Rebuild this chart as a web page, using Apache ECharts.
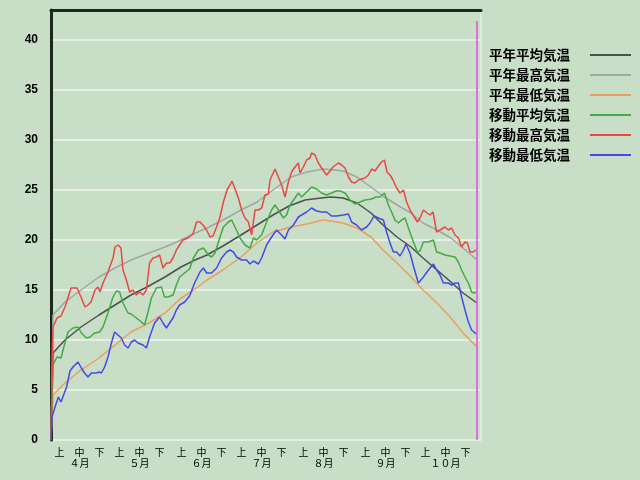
<!DOCTYPE html>
<html>
<head>
<meta charset="utf-8">
<script src="https://cdn.jsdelivr.net/npm/echarts@6/dist/echarts.min.js"></script>
<style>
  html, body { margin: 0; padding: 0; background: #c8dec7; }
  #chart { width: 640px; height: 480px; }
</style>
</head>
<body>
<div id="chart"></div>
<script>
// x = days counted from 4/1
const monthStarts = [0, 30, 61, 91, 122, 153, 183];
const monthLabels = ['４月', '５月', '６月', '７月', '８月', '９月', '１０月'];
const dekadLabels = ['上', '中', '下'];
const dekadOffsets = [4.3, 14.3, 24.3];
const lastDay = 213;

const seriesNames = ['平年平均気温', '平年最高気温', '平年最低気温', '移動平均気温', '移動最高気温', '移動最低気温'];

const normalAvg = [[0,0],[1,8.7],[7,10],[15,11.3],[24,12.5],[32,13.5],[40,14.5],[48,15.3],[57,16.3],[65,17.3],[72,18],[78,18.5],[86,19.4],[95,20.5],[103,21.5],[111,22.5],[119,23.4],[127,24],[135,24.2],[140,24.3],[146,24.2],[153,23.7],[160,22.7],[166,21.5],[173,20.3],[180,19.3],[186,18.2],[193,17],[200,15.8],[206,14.7],[213,13.7]];

const normalHigh = [[0,0],[1,12.5],[7,13.8],[15,15],[24,16.3],[32,17.2],[40,18],[49,18.7],[57,19.3],[65,20],[70,20.5],[78,21.2],[86,22],[95,23],[103,23.8],[111,25],[120,26.3],[128,26.8],[136,27.1],[142,27],[146,26.9],[153,26.3],[160,25.3],[166,24.4],[173,23.5],[180,22.7],[186,21.7],[193,21],[200,20.2],[206,19.2],[213,18]];

const normalLow = [[0,0],[1,4.5],[7,5.7],[15,7],[24,8.2],[32,9.5],[40,10.8],[49,11.7],[57,12.7],[65,14.2],[70,14.8],[78,16],[86,17],[95,18.3],[103,19.7],[111,20.8],[120,21.3],[128,21.6],[136,22],[140,21.9],[146,21.7],[153,21.2],[160,20.3],[166,19],[173,17.7],[180,16.3],[186,15],[193,13.7],[200,12.2],[206,10.7],[213,9.3]];

const movingAvg = [[0,0],[1,7.5],[3,8.3],[5,8.2],[6,9],[8.5,10.8],[11,11.2],[13.5,11.3],[15.2,10.7],[17.7,10.2],[19.5,10.3],[21.8,10.7],[24.3,10.8],[26,11.3],[28.5,12.7],[31,14.3],[32.7,14.9],[34.3,14.8],[36,13.7],[38.5,12.7],[40,12.6],[42.7,12.2],[45.2,11.8],[46.8,11.5],[48.5,12.8],[50.2,14.2],[52.7,15.2],[55.2,15.3],[56.8,14.3],[58.5,14.3],[61,14.5],[62.7,15.5],[64.3,16.3],[66.8,16.7],[69.3,17.1],[71.2,18.2],[73.7,19],[76.2,19.2],[78.7,18.5],[80.3,18.3],[82,18.7],[84.5,20.3],[86.2,21.3],[88.7,21.8],[90.3,22],[92,21.3],[94.5,20.2],[97,19.5],[99.5,19.2],[101.2,20.2],[102.8,20],[105.3,20.5],[107.8,21.8],[110.3,23],[112,23.5],[113.7,23],[116.2,22.2],[117.8,22.5],[119.5,23.5],[122,24.2],[123.7,24.7],[125.3,24.3],[127.8,24.8],[130.3,25.3],[132.8,25.1],[135.3,24.7],[137.8,24.5],[140.3,24.7],[142.5,24.9],[144.5,24.9],[147,24.7],[149.5,24],[152,23.6],[154.5,23.8],[157,24],[160.3,24.1],[162.5,24.3],[164.5,24.3],[166.7,24.7],[168.7,23.5],[170.3,22.8],[172,22],[173.7,21.7],[175.3,22],[177,22.2],[178.7,21.2],[181.2,19.8],[183.2,18.8],[184.5,18.9],[186.2,19.8],[188.7,19.8],[191.2,20],[192.8,18.8],[194.5,18.7],[197,18.5],[199.5,18.4],[202,18.3],[203.7,17.8],[205.3,17],[207,16.3],[208.7,15.7],[210.3,14.8],[211.5,14.7],[212.8,14.8]];

const movingHigh = [[0,0],[1,11.3],[3,12.2],[5,12.4],[7,13.3],[10,15.2],[13,15.2],[15,14.3],[17,13.3],[18.5,13.5],[20,13.8],[22,15],[23.5,15.3],[24.5,14.8],[26,15.7],[28.5,16.8],[31,18.2],[32,19.3],[33.5,19.5],[35,19.2],[36,17],[37.7,16],[39.3,14.8],[41,15],[42.7,14.5],[44.3,14.8],[46,14.5],[47.7,15],[49.3,17.7],[51,18.2],[52.7,18.3],[54.3,18.5],[56,17.2],[57.7,17.7],[59.3,17.7],[61,18.2],[62.7,19],[64.3,19.5],[66,20],[68.5,20.2],[71,20.6],[72.8,21.8],[74.5,21.8],[76,21.5],[77.8,21],[79.5,20.3],[81,20.4],[82.8,21.3],[84.5,22.3],[86.2,23.8],[88,25],[89.5,25.5],[90.5,25.9],[91.8,25.2],[93.7,24.2],[95.3,23],[97,22.2],[98.7,21.8],[100.3,20.5],[102,23],[103.7,23],[105.3,23.2],[107,24.5],[108.7,24.6],[109.5,26],[112,27.1],[113.7,26.3],[115.3,25.5],[117,24.3],[118.7,25.8],[120.3,26.8],[122,27.3],[123.7,27.7],[124.5,26.7],[126.2,27.3],[127.8,28],[129.5,28.2],[130.3,28.7],[132,28.5],[133.7,27.7],[135.3,27.2],[137.8,26.5],[139.5,26.9],[141,27.3],[143.7,27.7],[145.3,27.5],[147,27.2],[148.7,26.3],[150.3,25.8],[152,25.7],[153.7,26],[155.3,26.1],[157,26.2],[158.7,26.5],[160.3,27.1],[162,26.9],[163.7,27.4],[165.3,27.8],[166.7,28],[168,26.8],[169.5,26.5],[171,26],[172.8,25.2],[174.5,24.7],[176.2,25],[177.8,23.8],[179.5,23],[181,22.5],[183.2,21.8],[184.5,22.2],[186.2,23],[188,22.7],[189.5,22.5],[191,22.8],[192.8,20.8],[194.5,21],[197,21.3],[198.7,21],[200.3,21.2],[202,20.5],[203.7,20.2],[205.3,19.3],[207,19.8],[208.2,19.7],[209.5,18.8],[211,18.8],[212.5,19]];

const movingLow = [[0,0],[0.5,2.3],[2,3.3],[3.7,4.3],[5,3.8],[6,3.8],[7.8,5.3],[9.5,6.9],[11,7.3],[13.5,7.8],[15.2,7.2],[16.8,6.7],[18.5,6.3],[20.2,6.7],[22.7,6.7],[24,6.8],[25.2,6.7],[26.8,7.3],[28.5,8.3],[30.2,9.7],[31.8,10.8],[33.5,10.5],[35.2,10.2],[36.8,9.5],[38.5,9.2],[40.2,9.8],[41.8,10],[43.5,9.7],[46,9.5],[47.7,9.2],[49.3,10.3],[51.8,11.7],[54.3,12.3],[56,11.7],[57.7,11.2],[59.3,11.7],[61,12.2],[62.7,13],[64.3,13.5],[66.8,13.8],[69.3,14.4],[71.8,15.7],[74.5,16.8],[76.2,17.2],[77.8,16.7],[80.3,16.7],[82.8,17.2],[85.3,18.2],[87.8,18.8],[89.5,19],[91.2,18.8],[92.8,18.3],[95.3,18],[97.8,18],[99.5,17.6],[101.2,17.9],[103.7,17.6],[105.3,18.2],[107.8,19.5],[110.3,20.3],[112.8,21],[115.3,20.5],[117,20.1],[118.7,21],[121.2,21.5],[123.7,22.3],[125.3,22.5],[127.8,22.8],[130.3,23.2],[132.8,22.9],[135.3,22.8],[137.8,22.8],[140.3,22.4],[142.8,22.4],[146.2,22.5],[148.7,22.6],[150.3,21.8],[152.8,21.5],[155.3,21],[157.8,21.3],[159.5,21.7],[161.5,22.4],[163.7,22.2],[166.2,22],[167.8,20.8],[169.5,19.7],[171.2,18.8],[172.8,18.8],[174.5,18.4],[176.2,19],[177.5,19.6],[179.5,18.7],[181.5,17.2],[183.7,15.7],[186.2,16.3],[188.7,17],[191.2,17.6],[192.8,17],[194.5,16.5],[196.2,15.7],[198.7,15.7],[200.3,15.5],[202,15.7],[203.7,15.7],[205.3,14.3],[207,13],[208.7,11.8],[210.3,11],[212,10.7],[213,10.6]];

const seriesData = [normalAvg, normalHigh, normalLow, movingAvg, movingHigh, movingLow];
const colors = ['#4a524a', '#a0a8a0', '#e8a060', '#44aa44', '#e84848', '#4848e8'];

// 上中下 tick positions, month name under 中
const tickDays = [];
const tickTexts = [];
monthStarts.forEach((m, i) => {
  dekadLabels.forEach((d, j) => {
    tickDays.push(m + dekadOffsets[j]);
    tickTexts.push(j === 1 ? d + '\n' + monthLabels[i] : d);
  });
});

const font = '"Noto Sans CJK JP", sans-serif';
const chart = echarts.init(document.getElementById('chart'));

const option = {
  backgroundColor: '#c8dec7',
  animation: false,
  textStyle: { fontFamily: font },
  grid: { left: 51, top: 10, width: 430, height: 430 },
  legend: {
    orient: 'vertical',
    left: 484,
    top: 43,
    align: 'right',
    icon: 'rect',
    itemWidth: 41,
    itemHeight: 2,
    itemGap: 6,
    textStyle: { fontSize: 13.5, fontWeight: 'bold', color: '#000', lineHeight: 14, padding: [0, 15, 0, 0], fontFamily: font },
    data: seriesNames
  },
  xAxis: [
    {
      type: 'value', min: 0, max: 215, position: 'bottom',
      axisLine: { show: false },
      axisTick: { show: false },
      splitLine: { show: false },
      axisLabel: {
        customValues: tickDays,
        formatter: v => {
          const i = tickDays.findIndex(t => Math.abs(t - v) < 0.01);
          return i < 0 ? '' : tickTexts[i];
        },
        fontSize: 10, lineHeight: 11, margin: 7, color: '#000'
      }
    },
    {
      type: 'value', min: 0, max: 215, position: 'top',
      axisLine: { show: true, onZero: false, lineStyle: { color: '#1c281c', width: 3 } },
      axisTick: { show: false },
      axisLabel: { show: false },
      splitLine: { show: false }
    }
  ],
  yAxis: [
    {
      type: 'value', min: 0, max: 43, interval: 5, position: 'left',
      axisLine: { show: true, onZero: false, lineStyle: { color: '#1c281c', width: 3 } },
      axisTick: { show: false },
      splitLine: { lineStyle: { color: '#e6eee4', width: 2 } },
      axisLabel: { showMaxLabel: false, fontWeight: 'bold', fontSize: 12, color: '#000', margin: 13, fontFamily: '"Liberation Sans", sans-serif' }
    },
    {
      type: 'value', min: 0, max: 43, position: 'right',
      axisLine: { show: true, onZero: false, lineStyle: { color: '#e6eee4', width: 1.5 } },
      axisTick: { show: false },
      axisLabel: { show: false },
      splitLine: { show: false }
    }
  ],
  series: seriesNames.map((name, i) => ({
    name,
    type: 'line',
    data: seriesData[i],
    symbol: 'none',
    color: colors[i],
    lineStyle: { width: 1.5 }
  }))
};

// magenta end-of-period line
option.series[5].markLine = {
  silent: true,
  symbol: 'none',
  label: { show: false },
  lineStyle: { color: '#e070e0', width: 2, type: 'solid' },
  data: [[{ coord: [lastDay, 0] }, { coord: [lastDay, 41.9] }]]
};

chart.setOption(option);
</script>
</body>
</html>
